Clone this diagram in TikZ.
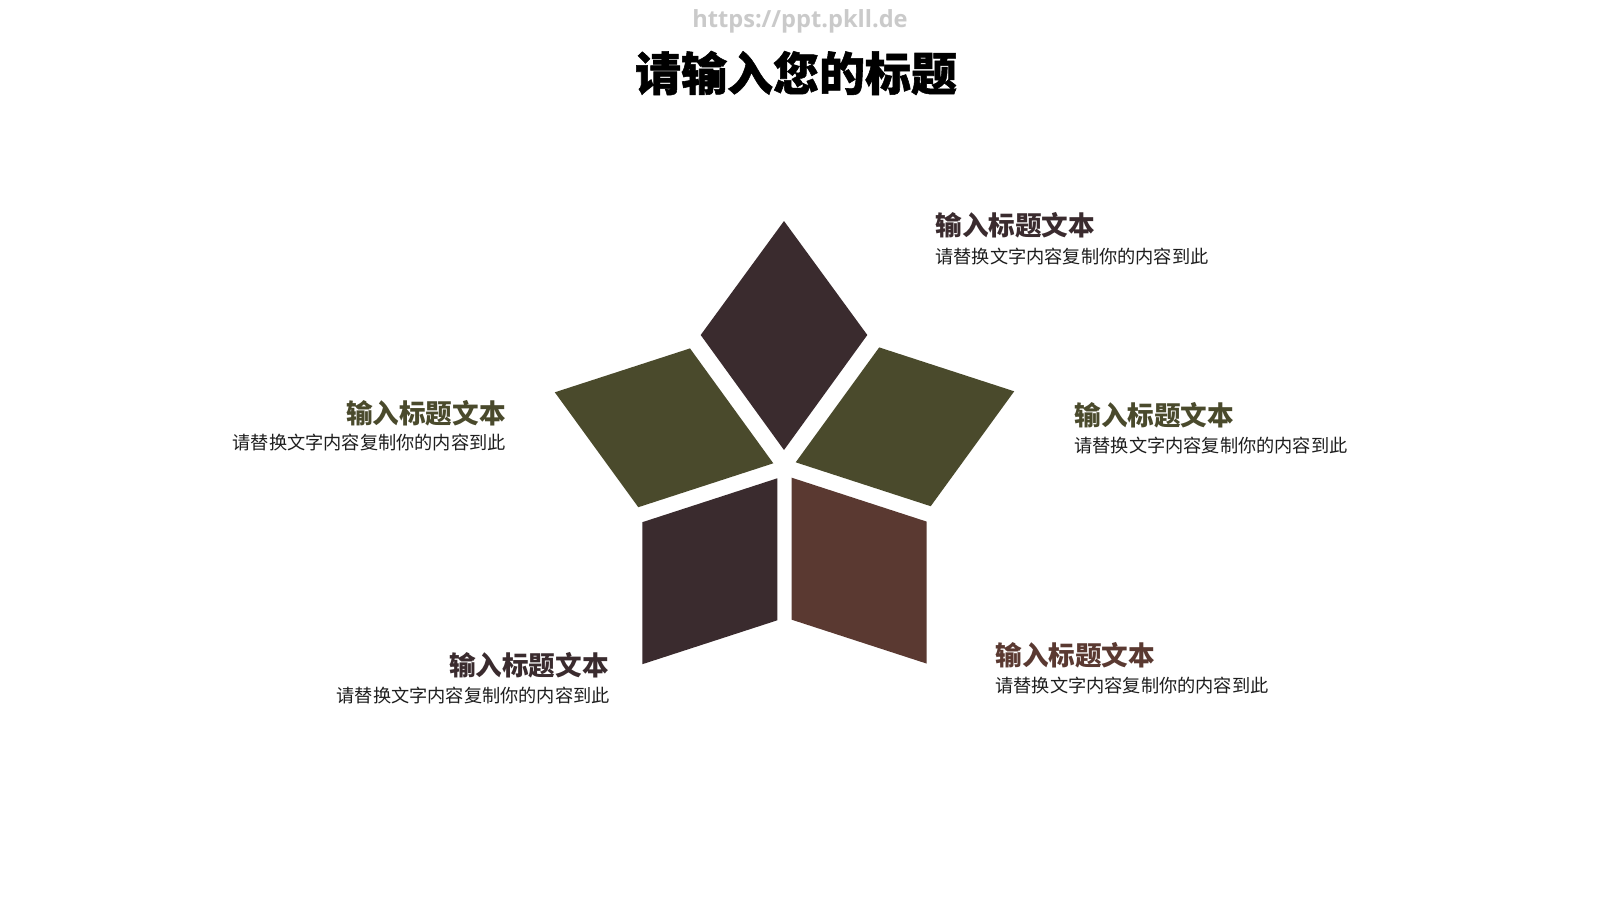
\documentclass[tikz,border=0pt]{standalone}
\usepackage{fontspec}
\setmainfont{Noto Sans CJK SC}
\newfontfamily\cjk{Noto Sans CJK SC}
\newfontfamily\cjktitle[BoldFeatures={FakeBold=1.2}]{Noto Sans CJK SC}
\newfontfamily\wmfont{Open Sans}
\definecolor{cdark}{HTML}{3A2B2E}
\definecolor{colive}{HTML}{4A4A2C}
\definecolor{cbrown}{HTML}{5A3931}
\definecolor{cbody}{HTML}{1E1E1E}
\definecolor{cwm}{HTML}{CACACA}
\begin{document}
\begin{tikzpicture}[x=0.5pt,y=-0.5pt,
  head/.style={inner sep=0pt,font=\cjk\bfseries\fontsize{13.3pt}{15pt}\selectfont},
  body/.style={inner sep=0pt,text=cbody,font=\cjk\fontsize{9.1pt}{11pt}\selectfont},
  petal/.style={draw=none}]
\useasboundingbox (0,0) rectangle (1600,900);
\fill[white] (0,0) rectangle (1600,900);
% watermark and title
\node[inner sep=0pt,text=cwm,font=\wmfont\bfseries\fontsize{11.8pt}{13pt}\selectfont] (wm) at (800,21) {https://ppt.pkll.de};
\node[inner sep=0pt,font=\cjktitle\bfseries\fontsize{23pt}{26pt}\selectfont] (title) at (796,73) {请输入您的标题};
% star petals
\fill[petal,cdark] (784,221) -- (867.3,335) -- (784,450) -- (700.7,335) -- cycle;
\fill[petal,colive] (554.8,392.3) -- (690,348.4) -- (773.3,463.3) -- (638.3,507.2) -- cycle;
\fill[petal,colive] (1014.2,391.3) -- (930.7,506.2) -- (795.7,462.3) -- (879.2,347.4) -- cycle;
\fill[petal,cdark] (777.3,478.3) -- (777.3,620.3) -- (642.3,664.2) -- (642.3,522.2) -- cycle;
\fill[petal,cbrown] (791.7,477.7) -- (926.7,521.6) -- (926.7,663.6) -- (791.7,619.7) -- cycle;
% labels
\node[head,text=cdark,anchor=west] (h1) at (935,225) {输入标题文本};
\node[body,anchor=west] (b1) at (935,257) {请替换文字内容复制你的内容到此};
\node[head,text=colive,anchor=west] (h2) at (1074,415) {输入标题文本};
\node[body,anchor=west] (b2) at (1074,446) {请替换文字内容复制你的内容到此};
\node[head,text=colive,anchor=east] (h3) at (506,413) {输入标题文本};
\node[body,anchor=east] (b3) at (506,443) {请替换文字内容复制你的内容到此};
\node[head,text=cdark,anchor=east] (h4) at (609,665) {输入标题文本};
\node[body,anchor=east] (b4) at (610,696) {请替换文字内容复制你的内容到此};
\node[head,text=cbrown,anchor=west] (h5) at (995,655) {输入标题文本};
\node[body,anchor=west] (b5) at (995,686) {请替换文字内容复制你的内容到此};
\end{tikzpicture}
\end{document}
